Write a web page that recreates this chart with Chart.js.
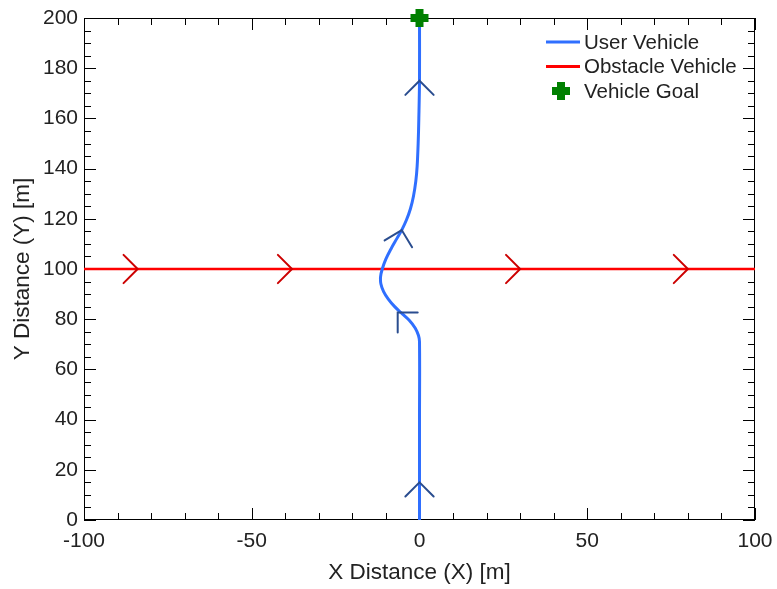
<!DOCTYPE html>
<html>
<head>
<meta charset="utf-8">
<title>Vehicle Trajectories</title>
<script src="https://cdn.jsdelivr.net/npm/chart.js@4.4.1/dist/chart.umd.min.js"></script>
<style>
  html, body { margin: 0; padding: 0; background: #ffffff; }
  #wrap { width: 777px; height: 589px; }
</style>
</head>
<body>
<div id="wrap"><canvas id="c" width="777" height="589"></canvas></div>
<script>
// User vehicle path (x, y) in metres
const userX = [0, 0, 0, -0.3, -1.3, -3.0, -5.2, -7.4, -9.3, -10.7, -11.5, -11.6, -11.1, -10.0, -8.5, -6.8, -5.3, -3.9, -2.7, -1.8, -1.1, -0.7, -0.4, -0.2, 0, 0];
const userY = [0, 40, 71, 73.5, 76.5, 79.5, 82.2, 85, 88, 91, 94, 97, 100, 104, 108, 112, 115.5, 119.5, 124, 129, 135, 141, 150, 160, 175, 200];

// Obstacle vehicle path
const obstacleX = [-100, 100];
const obstacleY = [100, 100];

// Goal position
const goalX = [0];
const goalY = [200];

// Direction markers along each path: tip position and heading (data units)
const userArrowX  = [0, -6.5, -5.3, 0];
const userArrowY  = [15, 82.7, 115.5, 175];
const userArrowDX = [0, -0.30, 1.9, 0];
const userArrowDY = [1, 0.40, 10.4, 1];

const obstacleArrowX  = [-84, -38, 30, 80];
const obstacleArrowY  = [100, 100, 100, 100];
const obstacleArrowDX = [1, 1, 1, 1];
const obstacleArrowDY = [0, 0, 0, 0];

// Axis ranges and tick spacing
const xRange = [-100, 100], xMajor = 50, xMinor = 10;
const yRange = [0, 200], yMajor = 20, yMinor = 5;

const FONT = "'Liberation Sans', Arial, sans-serif";
const USER_COLOR = '#2f6fff';
const OBST_COLOR = '#ff0000';
const GOAL_COLOR = '#008000';

const toPoints = (xs, ys) => xs.map((x, i) => ({ x, y: ys[i] }));

// Box frame with inward ticks on all four sides
const frameTicks = {
  id: 'frameTicks',
  beforeDatasetsDraw(chart) {
    const { ctx, chartArea: a, scales: { x, y } } = chart;
    ctx.save();
    ctx.strokeStyle = '#000';
    ctx.lineWidth = 1;
    ctx.strokeRect(a.left + 0.5, a.top + 0.5, a.right - a.left - 1, a.bottom - a.top - 1);
    ctx.beginPath();
    for (let v = xRange[0]; v <= xRange[1] + 1e-9; v += xMinor) {
      const px = Math.round(x.getPixelForValue(v)) + 0.5;
      const len = (Math.abs(v % xMajor) < 1e-9) ? 12 : 7;
      ctx.moveTo(px, a.bottom); ctx.lineTo(px, a.bottom - len);
      ctx.moveTo(px, a.top); ctx.lineTo(px, a.top + len);
    }
    for (let v = yRange[0]; v <= yRange[1] + 1e-9; v += yMinor) {
      const py = Math.round(y.getPixelForValue(v)) + 0.5;
      const len = (Math.abs(v % yMajor) < 1e-9) ? 12 : 7;
      ctx.moveTo(a.left, py); ctx.lineTo(a.left + len, py);
      ctx.moveTo(a.right, py); ctx.lineTo(a.right - len, py);
    }
    ctx.stroke();
    ctx.restore();
  }
};

// Open chevrons showing direction of travel
function drawChevrons(chart, xs, ys, dxs, dys, color) {
  const { ctx, scales: { x, y } } = chart;
  const len = 20, half = Math.PI / 4;
  ctx.save();
  ctx.strokeStyle = color;
  ctx.lineWidth = 2;
  ctx.lineCap = 'round';
  for (let i = 0; i < xs.length; i++) {
    const tx = x.getPixelForValue(xs[i]);
    const ty = y.getPixelForValue(ys[i]);
    const hx = x.getPixelForValue(xs[i] + dxs[i]) - x.getPixelForValue(xs[i]);
    const hy = y.getPixelForValue(ys[i] + dys[i]) - y.getPixelForValue(ys[i]);
    const ang = Math.atan2(hy, hx) + Math.PI;
    ctx.beginPath();
    ctx.moveTo(tx + len * Math.cos(ang - half), ty + len * Math.sin(ang - half));
    ctx.lineTo(tx, ty);
    ctx.lineTo(tx + len * Math.cos(ang + half), ty + len * Math.sin(ang + half));
    ctx.stroke();
  }
  ctx.restore();
}

const chevrons = {
  id: 'chevrons',
  afterDatasetsDraw(chart) {
    drawChevrons(chart, obstacleArrowX, obstacleArrowY, obstacleArrowDX, obstacleArrowDY, '#cc0000');
    drawChevrons(chart, userArrowX, userArrowY, userArrowDX, userArrowDY, '#2a4d8f');
  }
};

// Legend inside the plot, top right
const insideLegend = {
  id: 'insideLegend',
  afterDraw(chart) {
    const { ctx } = chart;
    const items = [
      { label: 'User Vehicle', type: 'line', color: USER_COLOR },
      { label: 'Obstacle Vehicle', type: 'line', color: OBST_COLOR },
      { label: 'Vehicle Goal', type: 'goal', color: GOAL_COLOR }
    ];
    const x0 = 546, x1 = 580, tx = 584, y0 = 42, dy = 24.5;
    ctx.save();
    ctx.font = '20.5px ' + FONT;
    ctx.textBaseline = 'middle';
    items.forEach((it, i) => {
      const yy = y0 + i * dy;
      if (it.type === 'line') {
        ctx.strokeStyle = it.color;
        ctx.lineWidth = 3;
        ctx.beginPath(); ctx.moveTo(x0, yy); ctx.lineTo(x1, yy); ctx.stroke();
      } else {
        ctx.strokeStyle = it.color;
        ctx.lineWidth = 8;
        const cx = 561, r = 9;
        ctx.beginPath();
        ctx.moveTo(cx - r, yy); ctx.lineTo(cx + r, yy);
        ctx.moveTo(cx, yy - r); ctx.lineTo(cx, yy + r);
        ctx.stroke();
      }
      ctx.fillStyle = '#222';
      ctx.fillText(it.label, tx, yy + 1);
    });
    ctx.restore();
  }
};

new Chart(document.getElementById('c'), {
  type: 'scatter',
  data: {
    datasets: [
      {
        label: 'Obstacle Vehicle',
        data: toPoints(obstacleX, obstacleY),
        showLine: true,
        borderColor: OBST_COLOR,
        borderWidth: 2.5,
        pointRadius: 0,
        order: 3
      },
      {
        label: 'User Vehicle',
        data: toPoints(userX, userY),
        showLine: true,
        borderColor: USER_COLOR,
        borderWidth: 3,
        pointRadius: 0,
        tension: 0.35,
        order: 2
      },
      {
        label: 'Vehicle Goal',
        data: toPoints(goalX, goalY),
        pointStyle: 'cross',
        pointRadius: 9,
        pointBorderWidth: 8,
        pointBorderColor: GOAL_COLOR,
        pointBackgroundColor: GOAL_COLOR,
        clip: false,
        order: 1
      }
    ]
  },
  options: {
    responsive: false,
    animation: false,
    events: [],
    layout: { padding: { left: 0, top: 18, right: 22, bottom: 0 } },
    plugins: { legend: { display: false }, tooltip: { enabled: false } },
    scales: {
      x: {
        type: 'linear',
        min: xRange[0], max: xRange[1],
        grid: { display: false, drawTicks: false },
        border: { display: false },
        ticks: { stepSize: xMajor, color: '#222', padding: 9, font: { family: FONT, size: 21 } },
        title: { display: true, text: 'X Distance (X) [m]', color: '#222', padding: { top: 4, bottom: 3 }, font: { family: FONT, size: 22.5 } },
        afterFit(s) { s.height = 69; s.paddingLeft = 0; s.paddingRight = 0; }
      },
      y: {
        type: 'linear',
        min: yRange[0], max: yRange[1],
        grid: { display: false, drawTicks: false },
        border: { display: false },
        ticks: { stepSize: yMajor, color: '#222', padding: 6, font: { family: FONT, size: 21 } },
        title: { display: true, text: 'Y Distance (Y) [m]', color: '#222', padding: { top: 9, bottom: 4 }, font: { family: FONT, size: 22.5 } },
        afterFit(s) { s.width = 84; s.paddingTop = 0; s.paddingBottom = 0; }
      }
    }
  },
  plugins: [frameTicks, chevrons, insideLegend]
});
</script>
</body>
</html>
